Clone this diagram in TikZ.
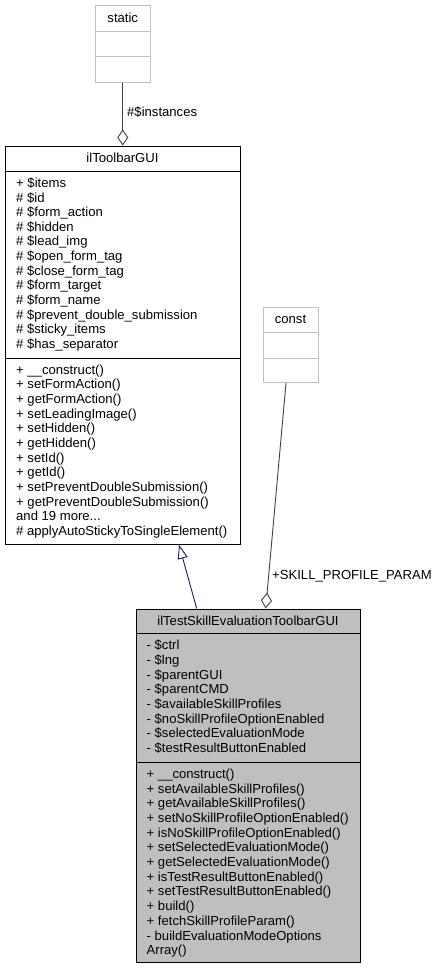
\documentclass[tikz,border=0pt]{standalone}
\usepackage{fontspec}
\setmainfont{Liberation Sans}
\usetikzlibrary{arrows.meta}
\definecolor{grey75}{HTML}{BFBFBF}
\definecolor{grey25}{HTML}{404040}
\definecolor{navyedge}{HTML}{191970}
\tikzset{
  box/.style={draw=black, line width=1pt, inner sep=0pt, rectangle},
  litebox/.style={draw=grey75, line width=1pt, inner sep=0pt, rectangle},
  dividerblack/.style={draw=black, line width=1pt},
  dividerlite/.style={draw=grey75, line width=1pt},
  txt/.style={anchor=base west, inner sep=0pt, font=\fontsize{13.1}{14.67}\selectfont},
  ttl/.style={anchor=base, inner sep=0pt, font=\fontsize{13.1}{14.67}\selectfont},
  aggr/.style={draw=grey25, line width=0.9pt, -{Diamond[open,length=16pt,width=11pt]}},
  inh/.style={draw=navyedge, line width=0.9pt, -{Triangle[open,length=14pt,width=10pt]}},
}
\begin{document}
\begin{tikzpicture}[x=1pt,y=-1pt]
\useasboundingbox (0,0) rectangle (441,969);
% static box
\node[litebox, minimum width=54.5pt, minimum height=76.5pt] (static) at (122.75,43.75) {};
\draw[dividerlite] (static.west |- 0,31.3) -- (static.east |- 0,31.3);
\draw[dividerlite] (static.west |- 0,56.7) -- (static.east |- 0,56.7);
\node[ttl] (statict) at (122.75,22) {static};
% ilToolbarGUI box
\node[box, minimum width=235pt, minimum height=398.3pt] (ilt) at (122.5,345.15) {};
\draw[dividerblack] (ilt.west |- 0,171.3) -- (ilt.east |- 0,171.3);
\draw[dividerblack] (ilt.west |- 0,358.3) -- (ilt.east |- 0,358.3);
\node[ttl] (iltt) at (122.5,162) {ilToolbarGUI};
\foreach \t [count=\i] in {+ \$items, \# \$id, \# \$form\_action, \# \$hidden, \# \$lead\_img, \# \$open\_form\_tag, \# \$close\_form\_tag, \# \$form\_target, \# \$form\_name, \# \$prevent\_double\_submission, \# \$sticky\_items, \# \$has\_separator}
  \node[txt] (ta\i) at (16,{187.4+14.63*(\i-1)}) {\t};
\foreach \t [count=\i] in {+ \_\_construct(), + setFormAction(), + getFormAction(), + setLeadingImage(), + setHidden(), + getHidden(), + setId(), + getId(), + setPreventDoubleSubmission(), + getPreventDoubleSubmission(), {and 19 more.{}.{}.}, \# applyAutoStickyToSingleElement()}
  \node[txt] (tm\i) at (16,{374+14.67*(\i-1)}) {\t};
% const box
\node[litebox, minimum width=55pt, minimum height=75.7pt] (const) at (290.5,344.85) {};
\draw[dividerlite] (const.west |- 0,332.7) -- (const.east |- 0,332.7);
\draw[dividerlite] (const.west |- 0,358.3) -- (const.east |- 0,358.3);
\node[ttl] (constt) at (290.5,323.4) {const};
% bottom box
\node[box, fill=grey75, minimum width=224pt, minimum height=353.7pt] (bot) at (248,785.85) {};
\draw[dividerblack] (bot.west |- 0,633.3) -- (bot.east |- 0,633.3);
\draw[dividerblack] (bot.west |- 0,762.3) -- (bot.east |- 0,762.3);
\node[ttl] (bott) at (248,625.4) {ilTestSkillEvaluationToolbarGUI};
\foreach \t [count=\i] in {- \$ctrl, - \$lng, - \$parentGUI, - \$parentCMD, - \$availableSkillProfiles, - \$noSkillProfileOptionEnabled, - \$selectedEvaluationMode, - \$testResultButtonEnabled}
  \node[txt] (ba\i) at (146.5,{649.7+14.67*(\i-1)}) {\t};
\foreach \t [count=\i] in {+ \_\_construct(), + setAvailableSkillProfiles(), + getAvailableSkillProfiles(), + setNoSkillProfileOptionEnabled(), + isNoSkillProfileOptionEnabled(), + setSelectedEvaluationMode(), + getSelectedEvaluationMode(), + isTestResultButtonEnabled(), + setTestResultButtonEnabled(), + build(), + fetchSkillProfileParam(), - buildEvaluationModeOptions, Array()}
  \node[txt] (bm\i) at (146.5,{778.4+14.69*(\i-1)}) {\t};
% edges
\draw[aggr] (static.south) -- (static.south |- ilt.north);
\node[txt] (lblinst) at (127,116.7) {\#\$instances};
\draw[aggr] ([xshift=-4.5pt]const.south) -- ([xshift=17.7pt]bot.north);
\node[txt] (lblskill) at (272,579.7) {+SKILL\_PROFILE\_PARAM};
\draw[inh] ([xshift=-51.3pt]bot.north) -- ([xshift=56.5pt]ilt.south);
\end{tikzpicture}
\end{document}
